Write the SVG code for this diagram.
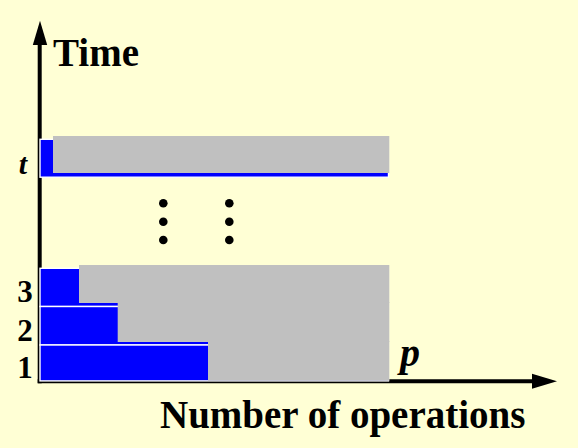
<svg xmlns="http://www.w3.org/2000/svg" width="578" height="448" viewBox="0 0 578 448">
<style>
.lbl{font-family:"Liberation Serif","Times New Roman",serif;font-weight:bold;fill:#000}
.it{font-style:italic}
.blue{fill:#0000FF;stroke:#FFFFFF;stroke-width:1.4}
.gray{fill:#C0C0C0}
.axis{stroke:#000;stroke-width:4;fill:none}
.dot{fill:#000}
</style>
<rect x="0" y="0" width="578" height="448" fill="#FFFFD5"/>
<g id="connectors">
<line class="axis" x1="39.7" y1="40" x2="39.7" y2="383.3"/>
<polygon points="40,20.7 32.8,45 47.2,45" fill="#000"/>
<line class="axis" x1="37.7" y1="381.3" x2="536" y2="381.3"/>
<polygon points="557,381.3 532,373.8 532,388.8" fill="#000"/>
</g>
<g id="row-t">
<rect class="blue" x="40" y="139.3" width="348.5" height="37.9"/>
<rect class="gray" x="53" y="136" width="336.3" height="37"/>
</g>
<g id="row-3">
<rect class="blue" x="40" y="268.3" width="348.5" height="38.2"/>
<rect class="gray" x="79" y="265" width="310.3" height="38"/>
</g>
<g id="row-2">
<rect class="blue" x="40" y="306.5" width="348.5" height="38.5"/>
<rect class="gray" x="117.7" y="302" width="271.6" height="40"/>
</g>
<g id="row-1">
<rect class="blue" x="40" y="345" width="348.5" height="35.9"/>
<rect class="gray" x="208" y="341" width="181.3" height="39.7"/>
</g>
<g id="dots">
<circle class="dot" cx="163.3" cy="203.3" r="4.3"/>
<circle class="dot" cx="163.3" cy="221.7" r="4.3"/>
<circle class="dot" cx="163.3" cy="240" r="4.3"/>
<circle class="dot" cx="229.3" cy="203.3" r="4.3"/>
<circle class="dot" cx="229.3" cy="221.7" r="4.3"/>
<circle class="dot" cx="229.3" cy="240" r="4.3"/>
</g>
<g id="labels">
<text class="lbl" x="53" y="66" font-size="39">Time</text>
<text class="lbl it" x="23" y="174" font-size="30" text-anchor="middle">t</text>
<text class="lbl" x="25" y="302" font-size="31" text-anchor="middle">3</text>
<text class="lbl" x="25" y="341" font-size="31" text-anchor="middle">2</text>
<text class="lbl" x="25" y="378" font-size="31" text-anchor="middle">1</text>
<text class="lbl it" x="400" y="366" font-size="40">p</text>
<text class="lbl" x="160" y="428" font-size="39">Number of operations</text>
</g>
</svg>
